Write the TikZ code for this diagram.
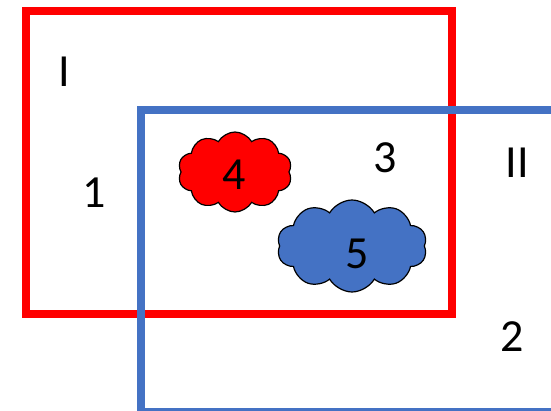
\documentclass[tikz,border=0pt]{standalone}
\usepackage{fontspec}
\setmainfont{Carlito}
\usetikzlibrary{shapes.symbols}
\definecolor{boxred}{HTML}{FF0000}
\definecolor{boxblue}{HTML}{4472C4}
\tikzset{
  frame/.style={line width=8pt},
  lbl/.style={font=\fontsize{46}{50}\selectfont, inner sep=0pt, anchor=center},
  puff/.style={cloud, cloud puffs=10, cloud puff arc=120, cloud ignores aspect, draw=black, line width=1.2pt, inner sep=0pt}
}
\begin{document}
\begin{tikzpicture}[x=1pt,y=-1pt]
\useasboundingbox (0,0) rectangle (551,411);
\node[frame, draw=boxred, minimum width=426pt, minimum height=303pt, inner sep=0pt] (red) at (239,162.5) {};
\node[frame, draw=boxblue, minimum width=424pt, minimum height=302pt, inner sep=0pt] (blue) at (353,261) {};
\node[puff, fill=boxred, minimum width=114pt, minimum height=80pt] (c4) at (235,172) {};
\node[puff, fill=boxblue, minimum width=150pt, minimum height=92pt] (c5) at (352,246) {};
\node[lbl] (tI) at (64,72) {I};
\node[lbl] (tII) at (517,163) {II};
\node[lbl] (t1) at (94,193) {1};
\node[lbl] (t2) at (512,337) {2};
\node[lbl] (t3) at (385,158) {3};
\node[lbl] (t4) at (234,175) {4};
\node[lbl] (t5) at (357,254) {5};
\end{tikzpicture}
\end{document}
